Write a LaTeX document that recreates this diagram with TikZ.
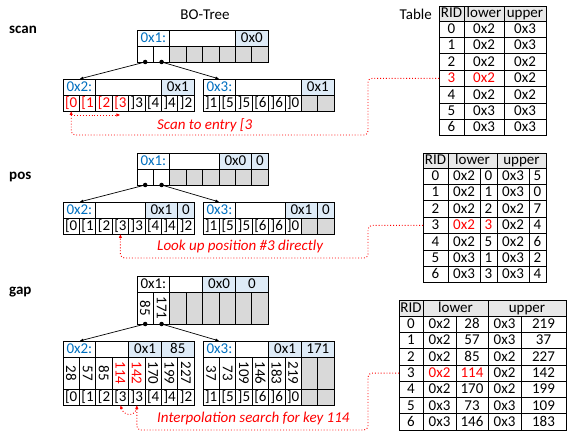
\documentclass[tikz,border=0pt]{standalone}
\usepackage{fontspec}
\setmainfont{Carlito}
\usepackage{graphicx}
\usetikzlibrary{arrows.meta}
\usetikzlibrary{positioning}
\definecolor{oxblue}{RGB}{0,112,192}
\definecolor{hdrblue}{RGB}{222,235,247}
\definecolor{cellgrey}{RGB}{217,217,217}
\definecolor{hdrgrey}{RGB}{232,232,232}
\definecolor{hitred}{RGB}{255,0,0}
\newcommand{\cellfmt}[1]{\mbox{\vphantom{[}#1}}
\newcommand{\rotkey}{\rotatebox{-90}}
% one row of cells: name, start, unit width, extra style, list text/cells/style
\newcommand{\borow}[5]{%
  \path #2 node[inner sep=0pt, outer sep=0pt, minimum size=0pt] (#1-0) {};
  \foreach \lbl/\cells/\sty [count=\cnt, remember=\cnt as \prev (initially 0)] in {#5}
    \node[bocell, #4, \sty, minimum width=\cells*#3, anchor=north west] (#1-\cnt) at (#1-\prev.north east) {\cellfmt{\lbl}};
}
\tikzset{
  bocell/.style={draw, line width=0.8pt, inner sep=0pt, outer sep=0pt, minimum height=16pt, font=\fontsize{15}{18}\selectfont},
  plaincell/.style={fill=white},
  greycell/.style={fill=cellgrey},
  bluecell/.style={fill=hdrblue},
  idcell/.style={fill=white, text=oxblue},
  hitcell/.style={fill=white, text=hitred},
  headcell/.style={fill=hdrgrey},
  keyrow/.style={minimum height=32pt, execute at begin node={\let\cellfmt\rotkey}},
  treedot/.style={circle, fill=black, inner sep=0pt, minimum size=4.5pt},
  treelink/.style={line width=0.7pt, -{Latex[length=4pt,width=3pt]}},
  hitpath/.style={hitred, dotted, line width=0.9pt, rounded corners=4pt, -{Latex[length=4pt,width=3.5pt]}},
  hitnote/.style={text=hitred, font=\fontsize{15}{18}\selectfont\itshape, anchor=west, inner sep=0pt},
  panel/.style={font=\fontsize{15}{18}\selectfont\bfseries, anchor=west, inner sep=0pt},
  title/.style={font=\fontsize{15}{18}\selectfont, inner sep=0pt},
}

\begin{document}
\begin{tikzpicture}[x=1pt,y=-1pt]
  \useasboundingbox (0,0) rectangle (567,435);
  \node[title] (bolbl) at (205,15) {BO-Tree};
  \node[title, anchor=east] (tablbl) at (432,14) {Table};
  \node[panel] (scanlbl) at (9,30) {scan};
  \node[panel] (poslbl) at (9,177) {pos};
  \node[panel] (gaplbl) at (9,292) {gap};

  % scan
  \borow{sr}{(137,30)}{16.4pt}{}{0x1:/2/idcell,/4/plaincell,0x0/2/bluecell}
  \borow{src}{(137,46)}{16.4pt}{}{/1/plaincell,/1/plaincell,/1/greycell,/1/greycell,/1/greycell,/1/greycell,/1/greycell,/1/greycell}
  \borow{sl}{(63,79)}{16.4pt}{}{0x2:/2/idcell,/4/plaincell,0x1/2/bluecell}
  \borow{sle}{(63,95)}{16.4pt}{}{[0/1/hitcell,[1/1/hitcell,[2/1/hitcell,[3/1/hitcell,]3/1/plaincell,[4/1/plaincell,]4/1/plaincell,]2/1/plaincell}
  \borow{sq}{(203,79)}{16.4pt}{}{0x3:/2/idcell,/4/plaincell,0x1/2/bluecell}
  \borow{sqe}{(203,95)}{16.4pt}{}{]1/1/plaincell,[5/1/plaincell,]5/1/plaincell,[6/1/plaincell,]6/1/plaincell,]0/1/plaincell,/1/greycell,/1/greycell}
  \node[treedot] (sd1) at (src-1.south) {};
  \node[treedot] (sd2) at (src-2.south) {};
  \draw[treelink] (sd1.center) -- (sl-1.north);
  \draw[treelink] (sd2.center) -- (sq-1.north);
  \borow{sth}{(439,6)}{1pt}{minimum height=15pt}{RID/25/headcell,lower/40/headcell,upper/42/headcell}
  \foreach \rid/\lw/\hi in {0/0x2/0x3,1/0x2/0x3,2/0x2/0x2,4/0x2/0x2,5/0x3/0x3,6/0x3/0x3}{
    \borow{st\rid}{(439,{21+16.4*\rid})}{1pt}{minimum height=16.4pt}{\rid/25/plaincell,\lw/40/plaincell,\hi/42/plaincell}
  }
  \borow{st3}{(439,70.2)}{1pt}{minimum height=16.4pt}{3/25/hitcell,0x2/40/hitcell,0x2/42/plaincell}
  \coordinate (sbend) at (368,135);
  \draw[hitpath] (st3-1.west) -| (sbend) -| (sle-1.south);
  \draw[hitpath] ([yshift=-4pt]sle-1.south) -- ([yshift=-4pt]sle-4.south);
  \node[hitnote] (snote) at (157,125) {Scan to entry [3};

  % pos
  \borow{pr}{(137,153)}{16.4pt}{}{0x1:/2/idcell,/3/plaincell,0x0/2/bluecell,0/1/bluecell}
  \borow{prc}{(137,169)}{16.4pt}{}{/1/plaincell,/1/plaincell,/1/greycell,/1/greycell,/1/greycell,/1/greycell,/1/greycell,/1/greycell}
  \borow{pl}{(63,202)}{16.4pt}{}{0x2:/2/idcell,/3/plaincell,0x1/2/bluecell,0/1/bluecell}
  \borow{ple}{(63,218)}{16.4pt}{}{[0/1/plaincell,[1/1/plaincell,[2/1/plaincell,[3/1/plaincell,]3/1/plaincell,[4/1/plaincell,]4/1/plaincell,]2/1/plaincell}
  \borow{pq}{(203,202)}{16.4pt}{}{0x3:/2/idcell,/3/plaincell,0x1/2/bluecell,0/1/bluecell}
  \borow{pqe}{(203,218)}{16.4pt}{}{]1/1/plaincell,[5/1/plaincell,]5/1/plaincell,[6/1/plaincell,]6/1/plaincell,]0/1/plaincell,/1/greycell,/1/greycell}
  \node[treedot] (pd1) at (prc-1.south) {};
  \node[treedot] (pd2) at (prc-2.south) {};
  \draw[treelink] (pd1.center) -- (pl-1.north);
  \draw[treelink] (pd2.center) -- (pq-1.north);
  \borow{pth}{(423,153)}{1pt}{minimum height=15pt}{RID/25/headcell,lower/49/headcell,upper/49/headcell}
  \foreach \rid/\lw/\lp/\hi/\hp in {0/0x2/0/0x3/5,1/0x2/1/0x3/0,2/0x2/2/0x2/7,4/0x2/5/0x2/6,5/0x3/1/0x3/2,6/0x3/3/0x3/4}{
    \borow{pt\rid}{(423,{168+16.4*\rid})}{1pt}{minimum height=16.4pt}{\rid/25/plaincell,\lw/32/plaincell,\lp/17/plaincell,\hi/32/plaincell,\hp/17/plaincell}
  }
  \borow{pt3}{(423,217.2)}{1pt}{minimum height=16.4pt}{3/25/plaincell,0x2/32/hitcell,3/17/hitcell,0x2/32/plaincell,4/17/plaincell}
  \coordinate (pbend) at (368,258);
  \draw[hitpath] (pt3-1.west) -| (pbend) -| (ple-4.south);
  \node[hitnote] (pnote) at (157,247) {Look up position \#3 directly};

  % gap
  \borow{gr}{(137,276)}{16.4pt}{}{0x1:/2/plaincell,/2/plaincell,0x0/2/bluecell,0/2/bluecell}
  \borow{grk}{(137,292)}{16.4pt}{keyrow}{85/1/plaincell,171/1/plaincell,/1/greycell,/1/greycell,/1/greycell,/1/greycell,/1/greycell,/1/greycell}
  \borow{gl}{(63,341)}{16.4pt}{}{0x2:/2/idcell,/2/plaincell,0x1/2/bluecell,85/2/bluecell}
  \borow{glk}{(63,357)}{16.4pt}{keyrow}{28/1/plaincell,57/1/plaincell,85/1/plaincell,114/1/hitcell,142/1/hitcell,170/1/plaincell,199/1/plaincell,227/1/plaincell}
  \borow{gle}{(63,389)}{16.4pt}{}{[0/1/plaincell,[1/1/plaincell,[2/1/plaincell,[3/1/plaincell,]3/1/plaincell,[4/1/plaincell,]4/1/plaincell,]2/1/plaincell}
  \borow{gq}{(203,341)}{16.4pt}{}{0x3:/2/idcell,/2/plaincell,0x1/2/bluecell,171/2/bluecell}
  \borow{gqk}{(203,357)}{16.4pt}{keyrow}{37/1/plaincell,73/1/plaincell,109/1/plaincell,146/1/plaincell,183/1/plaincell,219/1/plaincell,/1/greycell,/1/greycell}
  \borow{gqe}{(203,389)}{16.4pt}{}{]1/1/plaincell,[5/1/plaincell,]5/1/plaincell,[6/1/plaincell,]6/1/plaincell,]0/1/plaincell,/1/greycell,/1/greycell}
  \node[treedot] (gd1) at (grk-1.south) {};
  \node[treedot] (gd2) at (grk-2.south) {};
  \draw[treelink] (gd1.center) -- (gl-1.north);
  \draw[treelink] (gd2.center) -- (gq-1.north);
  \borow{gth}{(399,300)}{1pt}{minimum height=16pt}{RID/24/headcell,lower/65/headcell,upper/78/headcell}
  \foreach \rid/\lw/\lp/\hi/\hp in {0/0x2/28/0x3/219,1/0x2/57/0x3/37,2/0x2/85/0x2/227,4/0x2/170/0x2/199,5/0x3/73/0x3/109,6/0x3/146/0x3/183}{
    \borow{gt\rid}{(399,{316+16.3*\rid})}{1pt}{minimum height=16.3pt}{\rid/24/plaincell,\lw/33/plaincell,\lp/32/plaincell,\hi/33/plaincell,\hp/45/plaincell}
  }
  \borow{gt3}{(399,364.9)}{1pt}{minimum height=16.3pt}{3/24/plaincell,0x2/33/hitcell,114/32/hitcell,0x2/33/plaincell,142/45/plaincell}
  \coordinate (gbend) at (368,430);
  \draw[hitpath] (gt3-1.west) -| (gbend) -| (gle-5.south);
  \draw[hitpath] ([yshift=-3pt]gle-5.south) .. controls +(-3,10) and +(3,10) .. (gle-4.south);
  \node[hitnote] (gnote) at (157,418) {Interpolation search for key 114};
\end{tikzpicture}
\end{document}
